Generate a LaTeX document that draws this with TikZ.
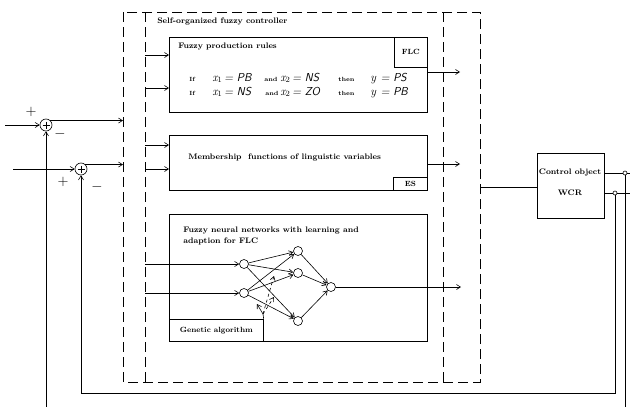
\documentclass[tikz,border=0pt]{standalone}
\usetikzlibrary{arrows.meta}
\begin{document}
\begin{tikzpicture}[x=1pt,y=-1pt,line width=0.6pt,
  >={Straight Barb[length=4pt,width=5pt]},
  box/.style={draw,line width=0.7pt,anchor=north west,inner sep=0pt},
  tag/.style={draw,line width=0.7pt,inner sep=0pt,font=\fontsize{7.5}{8}\selectfont\bfseries},
  dbox/.style={draw,line width=0.7pt,dash pattern=on 10pt off 5pt},
  lbl/.style={inner sep=0pt,font=\fontsize{8}{10.5}\selectfont\bfseries},
  kw/.style={inner sep=0pt,font=\fontsize{6}{6}\selectfont\bfseries},
  fm/.style={inner sep=0pt,font=\fontsize{11.5}{12}\selectfont\sffamily\itshape},
  neuron/.style={draw,circle,minimum size=9pt,inner sep=0pt,fill=white},
  sumj/.style={draw,circle,minimum size=12pt,inner sep=0pt},
  tap/.style={draw,circle,minimum size=4pt,inner sep=0pt,fill=white},
  sgn/.style={inner sep=0pt,font=\fontsize{14}{14}\selectfont}]

\useasboundingbox (0,0) rectangle (630,407);

% dashed controller frame
\draw[dbox] (123,12) rectangle (480,382);
\draw[dbox] (145,12) -- (145,382);
\draw[dbox] (443,12) -- (443,382);
\node[lbl,anchor=west] (title) at (157,22) {Self-organized fuzzy controller};

% Fuzzy production rules box
\node[box,minimum width=258pt,minimum height=75pt] (fpr) at (169,37) {};
\node[tag,anchor=north east,minimum width=33pt,minimum height=30pt] (flc) at (fpr.north east) {FLC};
\node[lbl,anchor=west] (fprt) at (178,47) {Fuzzy production rules};
\node[kw,anchor=base west] (r1if) at (189,81) {If};
\node[fm,anchor=base west] (r1a) at (212,81) {$\mathit{x}_{1}$\,= PB};
\node[kw,anchor=base west] (r1and) at (264,81) {and};
\node[fm,anchor=base west] (r1b) at (280,81) {$\mathit{x}_{2}$\,= NS};
\node[kw,anchor=base west] (r1then) at (338,81) {then};
\node[fm,anchor=base west] (r1c) at (370,81) {$\mathit{y}$ = PS};
\node[kw,anchor=base west] (r2if) at (189,95) {If};
\node[fm,anchor=base west] (r2a) at (212,95) {$\mathit{x}_{1}$\,= NS};
\node[kw,anchor=base west] (r2and) at (265,95) {and};
\node[fm,anchor=base west] (r2b) at (280,95) {$\mathit{x}_{2}$\,= ZO};
\node[kw,anchor=base west] (r2then) at (338,95) {then};
\node[fm,anchor=base west] (r2c) at (370,95) {$\mathit{y}$ = PB};

% Membership functions box
\node[box,minimum width=258pt,minimum height=55pt] (ms) at (169,135) {};
\node[tag,anchor=south east,minimum width=34pt,minimum height=13pt] (es) at (ms.south east) {ES};
\node[lbl,anchor=west] (mst) at (188,158) {Membership\ \ functions of linguistic variables};

% Neural network box
\node[box,minimum width=258pt,minimum height=127pt] (nn) at (169,214) {};
\node[tag,anchor=south west,minimum width=94pt,minimum height=22pt] (gab) at (nn.south west) {Genetic algorithm};
\node[lbl,anchor=north west,align=left] (nnt) at (183,227) {Fuzzy neural networks with learning and\\adaption for FLC};

% inputs from bus
\coordinate (b1) at (145,55);
\coordinate (b2) at (145,88);
\coordinate (b3) at (145,145);
\coordinate (b4) at (145,169);
\coordinate (b5) at (145,264);
\coordinate (b6) at (145,293);
\draw[->] (b1) -- (b1 -| fpr.west);
\draw[->] (b2) -- (b2 -| fpr.west);
\draw[->] (b3) -- (b3 -| ms.west);
\draw[->] (b4) -- (b4 -| ms.west);

% network nodes
\node[neuron] (i1) at (244,264) {};
\node[neuron] (i2) at (244,293) {};
\node[neuron] (h1) at (298,251) {};
\node[neuron] (h2) at (298,273) {};
\node[neuron] (h3) at (298,321) {};
\node[neuron] (o) at (331,287) {};
\draw[->] (b5) -- (i1);
\draw[->] (b6) -- (i2);
\foreach \a in {i1,i2} \foreach \b in {h1,h2,h3} \draw[->] (\a) -- (\b);
\foreach \b in {h1,h2,h3} \draw[->] (\b) -- (o);

% genetic algorithm adjustments
\coordinate (ga) at (263,314);
\coordinate (gt1) at (257,304);
\coordinate (gt2) at (274,297);
\coordinate (gt3) at (274,276);
\draw (gab.north east) -- (ga);
\draw[->] (ga) -- (gt1);
\draw[->,dashed] (ga) -- (gt2);
\draw[->,dashed] (ga) -- (gt3);

% outputs of the three blocks
\coordinate (e1) at (460,72);
\coordinate (e2) at (460,164);
\coordinate (e3) at (461,287);
\draw[->] (e1 -| fpr.east) -- (e1);
\draw[->] (e2 -| ms.east) -- (e2);
\draw[->] (o) -- (e3);

% control object
\node[box,minimum width=67pt,minimum height=65pt] (co) at (537,153) {};
\node[lbl] (cot) at (570,173) {Control object};
\node[lbl] (wcr) at (570,193) {WCR};
\coordinate (cout) at (480,187);
\draw (cout) -- (cout -| co.west);

\coordinate (redge) at (630,0);
\coordinate (lb) at (0,393);
\coordinate (bot) at (0,407);
\node[tap] (t1) at (625,173) {};
\node[tap] (t2) at (615,193) {};
\draw (co.east |- t1) -- (t1.west);
\draw (t1.east) -- (t1 -| redge);
\draw (co.east |- t2) -- (t2.west);
\draw (t2.east) -- (t2 -| redge);

% summing junctions
\node[sumj] (s1) at (46,125) {};
\node[sumj] (s2) at (81,169) {};
\foreach \s in {s1,s2} {
  \draw ([yshift=3.5pt]\s.center) -- ([yshift=-3.5pt]\s.center);
  \draw ([xshift=-3.5pt]\s.center) -- ([xshift=3.5pt]\s.center);
}
\node[sgn] (p1) at (31,112) {$+$};
\node[sgn] (m1) at (60,134) {$-$};
\node[sgn] (p2) at (63,182) {$+$};
\node[sgn] (m2) at (97,187) {$-$};

\coordinate (in1) at (5,125);
\coordinate (in2) at (13,169);
\coordinate (xo) at (123,0);
\draw[->] (in1) -- (s1);
\draw[->] (in2) -- (s2);
\draw[->] (s1.north east) -- (s1.north east -| xo);
\draw[->] (s2.north east) -- (s2.north east -| xo);

% feedback loops
\draw[->] (t2.south) |- (s2 |- lb) -- (s2.south);
\draw (t1.south) -- (t1 |- bot);
\draw[->] (s1 |- bot) -- (s1.south);
\end{tikzpicture}
\end{document}
